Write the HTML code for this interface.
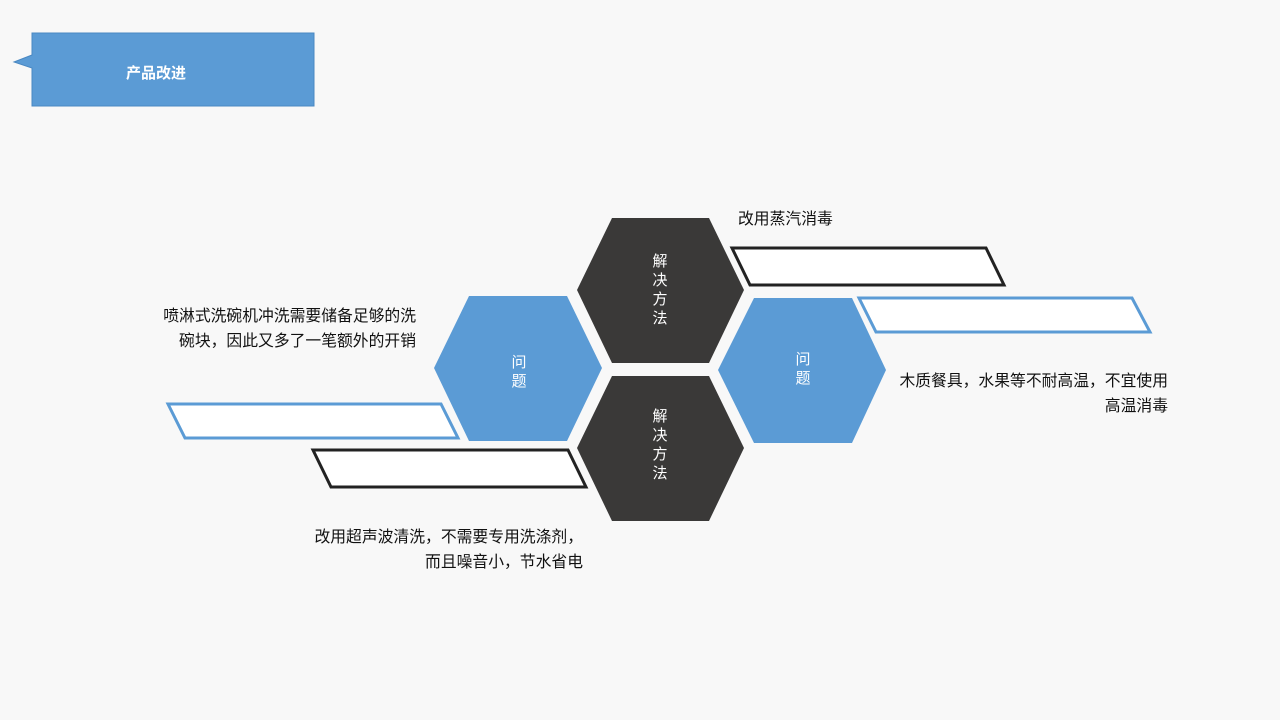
<!DOCTYPE html>
<html><head><meta charset="utf-8"><style>
body{margin:0;width:1280px;height:720px;background:#f8f8f8;overflow:hidden;position:relative;font-family:"Liberation Sans","Noto Sans CJK SC",sans-serif}
.t{position:absolute;font-size:15.8px;color:#111;white-space:nowrap;line-height:25px}
svg{position:absolute;left:0;top:0}
</style></head><body>
<svg width="1280" height="720" font-family="Liberation Sans, Noto Sans CJK SC, sans-serif">
<polygon points="32,33 314,33 314,106 32,106 32,68 14,62 32,55" fill="#5b9bd5" stroke="#4a88c2" stroke-width="1"/>
<text x="156" y="78" fill="#fff" font-size="15" font-weight="bold" text-anchor="middle">产品改进</text>
<polygon points="612,218 709,218 744,290 709,363 612,363 577,290" fill="#3a3938"/>
<polygon points="612,376 709,376 744,448 709,521 612,521 577,448" fill="#3a3938"/>
<polygon points="469,296 567,296 602,368 567,441 469,441 434,368" fill="#5b9bd5"/>
<polygon points="754,298 852,298 886,370 852,443 754,443 718,370" fill="#5b9bd5"/>
<polygon points="732,248 986,248 1004,285 750,285" fill="#fff" stroke="#222" stroke-width="3"/>
<polygon points="859,298 1132,298 1150,332 876,332" fill="#fff" stroke="#5b9bd5" stroke-width="3"/>
<polygon points="168,404 441,404 458,438 185,438" fill="#fff" stroke="#5b9bd5" stroke-width="3"/>
<polygon points="313,450 568,450 586,487 331,487" fill="#fff" stroke="#222" stroke-width="3"/>
<g fill="#fff" font-size="15" text-anchor="middle">
<text x="660" y="266">解</text><text x="660" y="285">决</text><text x="660" y="304">方</text><text x="660" y="323">法</text>
<text x="660" y="421">解</text><text x="660" y="440">决</text><text x="660" y="459">方</text><text x="660" y="478">法</text>
<text x="519" y="367">问</text><text x="519" y="386">题</text>
<text x="803" y="364">问</text><text x="803" y="383">题</text>
</g>
</svg>
<div class="t" style="left:738px;top:207px">改用蒸汽消毒</div>
<div class="t" style="right:864px;top:304px;text-align:right">喷淋式洗碗机冲洗需要储备足够的洗<br>碗块，因此又多了一笔额外的开销</div>
<div class="t" style="right:112px;top:369px;text-align:right">木质餐具，水果等不耐高温，不宜使用<br>高温消毒</div>
<div class="t" style="right:697px;top:525px;text-align:right">改用超声波清洗，不需要专用洗涤剂，<br>而且噪音小，节水省电</div>
</body></html>
